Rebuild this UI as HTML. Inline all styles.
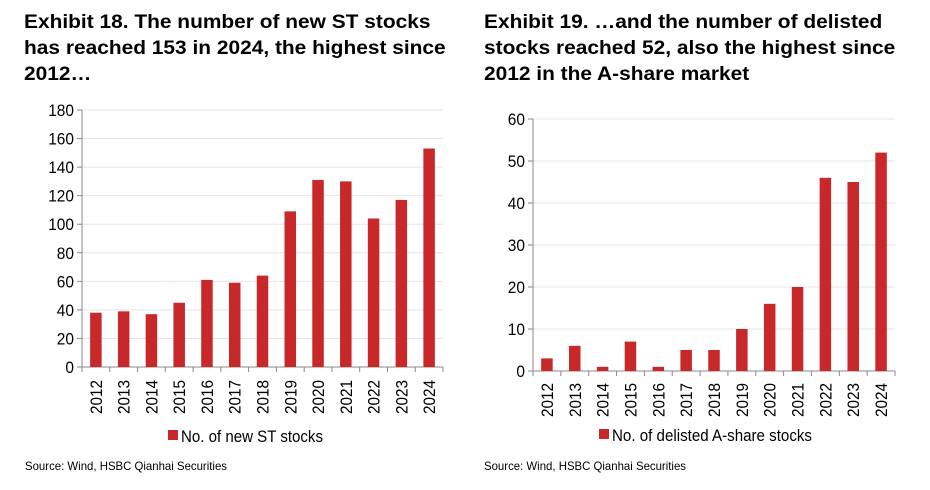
<!DOCTYPE html>
<html><head><meta charset="utf-8"><style>
body{margin:0;background:#fff;font-family:"Liberation Sans",Arial,sans-serif;}
.t{position:absolute;font-weight:bold;font-size:19px;line-height:26px;color:#000;white-space:nowrap;transform:scaleX(1.1);transform-origin:0 0;}
svg{position:absolute;left:0;top:0}
</style></head><body>
<div class="t" style="left:24px;top:10px;">Exhibit 18. The number of new ST stocks<br>has reached 153 in 2024, the highest since<br>2012…</div>
<div class="t" style="left:484px;top:10px;">Exhibit 19. …and the number of delisted<br>stocks reached 52, also the highest since<br>2012 in the A-share market</div>
<svg id="s" width="930" height="490"></svg>
<script>
const years=["2012","2013","2014","2015","2016","2017","2018","2019","2020","2021","2022","2023","2024"];
const stValues=[38,39,37,45,61,59,64,109,131,130,104,117,153];
const stTicks=[0,20,40,60,80,100,120,140,160,180];
const delistValues=[3,6,1,7,1,5,5,10,16,20,46,45,52];
const delistTicks=[0,10,20,30,40,50,60];
const NS="http://www.w3.org/2000/svg";
const svg=document.getElementById('s');
function mk(tag,attrs,parent){const e=document.createElementNS(NS,tag);for(const k in attrs)e.setAttribute(k,attrs[k]);(parent||svg).appendChild(e);return e;}
function chart(cfg){
  const g=mk('g',{});
  
  
  const max=cfg.ticks[cfg.ticks.length-1];
  const y=v=>cfg.y0-(v/max)*(cfg.y0-cfg.yTop);
  const cw=(cfg.x1-cfg.x0)/cfg.cats.length;
  const x=i=>cfg.x0+cw*(i+0.5);
  cfg.ticks.forEach(t=>{
    if(t>0){const l=mk('line',{x1:cfg.x0,x2:cfg.x1,y1:y(t),y2:y(t),stroke:'#e4e4e4','stroke-width':1},g);
    }
    mk('line',{x1:cfg.x0-5,x2:cfg.x0,y1:y(t),y2:y(t),stroke:'#888'},g);
    const tx=mk('text',{x:cfg.x0-8,y:y(t)+6,'text-anchor':'end','font-size':17,fill:'#000',textLength:String(t).length*8.6,lengthAdjust:'spacingAndGlyphs'},g);
    tx.textContent=t;
    
    
  });
  mk('line',{x1:cfg.x0,x2:cfg.x0,y1:cfg.yTop,y2:cfg.y0,stroke:'#888'},g);
  mk('line',{x1:cfg.x0,x2:cfg.x1,y1:cfg.y0,y2:cfg.y0,stroke:'#888'},g);
  cfg.cats.forEach((c,i)=>{
    const bx=cfg.x0+cw*i;
    mk('line',{x1:bx,x2:bx,y1:cfg.y0,y2:cfg.y0+5,stroke:'#888'},g);
    const b=mk('rect',{x:x(i)-5.75,y:y(cfg.vals[i]),width:11.5,height:cfg.y0-y(cfg.vals[i]),fill:'#c8282a'},g);
    
    
    const lt=mk('text',{x:0,y:0,'text-anchor':'middle','font-size':17,fill:'#000',textLength:34,lengthAdjust:'spacingAndGlyphs',transform:`translate(${x(i)+6},${cfg.labY}) rotate(-90)`},g);
    lt.textContent=c;
    
    
  });
  mk('line',{x1:cfg.x1,x2:cfg.x1,y1:cfg.y0,y2:cfg.y0+5,stroke:'#888'},g);
  const lg=mk('g',{},g);
  
  
  mk('rect',{x:cfg.legX,y:cfg.legY-12,width:10,height:10,fill:'#c8282a'},lg);
  const lt=mk('text',{x:cfg.legX+13,y:cfg.legY,'font-size':17,fill:'#000',textLength:cfg.legW,lengthAdjust:'spacingAndGlyphs'},lg);
  lt.textContent=cfg.legend;
  const s=mk('text',{x:cfg.srcX,y:cfg.srcY,'font-size':12,fill:'#000',textLength:202,lengthAdjust:'spacingAndGlyphs'},g);
  s.textContent='Source: Wind, HSBC Qianhai Securities';
  
  
}
chart({name:'st-stocks-chart',cats:years,vals:stValues,ticks:stTicks,x0:82,x1:443,yTop:110,y0:367,labY:397,legX:168,legY:442,legW:142,legend:'No. of new ST stocks',srcX:25,srcY:470});
chart({name:'delisted-stocks-chart',cats:years,vals:delistValues,ticks:delistTicks,x0:533,x1:895,yTop:119,y0:371,labY:400,legX:599,legY:441,legW:200,legend:'No. of delisted A-share stocks',srcX:484,srcY:470});
</script>
</body></html>
